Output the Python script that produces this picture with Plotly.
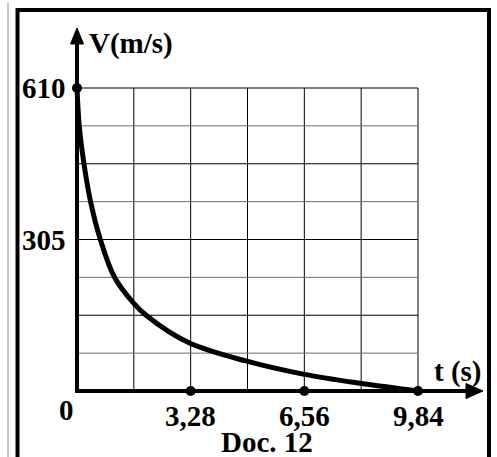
import plotly.graph_objects as go

# ---------------- data ----------------
curve_t = [0, 0.066, 0.202, 0.395, 0.678, 1.082, 1.607, 2.02, 3.232, 4.897, 6.521, 8.166, 9.84]
curve_v = [610, 533, 457, 380, 304, 229, 179, 151, 97, 60, 34, 15.5, 0]

dot_t = [0, 3.28, 6.56, 9.84]
dot_v = [610, 0, 0, 0]

x_tick_vals = [3.28, 6.56, 9.84]
x_tick_text = ["3,28", "6,56", "9,84"]
y_tick_vals = [610, 305]
y_tick_text = ["610", "305"]

grid_t_step = 1.64
grid_t_count = 6
grid_v_step = 76.25
grid_v_count = 8

x_title = "t (s)"
y_title = "V(m/s)"
caption = "Doc. 12"

# ---------------- geometry ----------------
W, H = 497, 457
X0, Y0 = 77.0, 391.0          # pixel of origin
SX = 341.0 / 9.84             # px per second
SY = 303.0 / 610.0            # px per m/s


def t_of(px):
    return (px - X0) / SX


def v_of(py):
    return (Y0 - py) / SY


def pxx(px):
    return px / W


def pxy(py):
    return 1 - py / H


FONT = "Liberation Serif"
FS = 29

fig = go.Figure()

shapes = []
# grid
t_max = grid_t_step * grid_t_count
v_max = grid_v_step * grid_v_count
for i in range(1, grid_t_count + 1):
    t = i * grid_t_step
    shapes.append(dict(type="line", x0=t, x1=t, y0=0, y1=v_max, xref="x", yref="y",
                       line=dict(color="black", width=1), layer="below"))
for i in range(1, grid_v_count + 1):
    v = i * grid_v_step
    col = "black" if i % 2 == 0 else "#6e6e6e"
    shapes.append(dict(type="line", x0=0, x1=t_max, y0=v, y1=v, xref="x", yref="y",
                       line=dict(color=col, width=1), layer="below"))

# axes
shapes.append(dict(type="line", x0=0, x1=0, y0=0, y1=v_of(42), xref="x", yref="y",
                   line=dict(color="black", width=4)))
shapes.append(dict(type="line", x0=t_of(75), x1=t_of(469), y0=0, y1=0, xref="x", yref="y",
                   line=dict(color="black", width=4)))
# arrowheads
shapes.append(dict(type="path", xref="x", yref="y",
                   path=f"M {t_of(77)} {v_of(28)} L {t_of(70.5)} {v_of(44)} L {t_of(83.5)} {v_of(44)} Z",
                   fillcolor="black", line=dict(color="black", width=1)))
shapes.append(dict(type="path", xref="x", yref="y",
                   path=f"M {t_of(483)} {v_of(391)} L {t_of(466)} {v_of(383.5)} L {t_of(466)} {v_of(398.5)} Z",
                   fillcolor="black", line=dict(color="black", width=1)))

# frame and left gray rule
shapes.append(dict(type="rect", xref="paper", yref="paper",
                   x0=pxx(17.5), x1=pxx(489), y0=pxy(480), y1=pxy(10),
                   line=dict(color="black", width=4)))
shapes.append(dict(type="line", xref="paper", yref="paper",
                   x0=pxx(8), x1=pxx(8), y0=pxy(3), y1=pxy(470),
                   line=dict(color="#8a8a8a", width=1)))

# curve
fig.add_trace(go.Scatter(x=curve_t, y=curve_v, mode="lines",
                         line=dict(color="black", width=5, shape="spline", smoothing=1.0),
                         hoverinfo="skip", showlegend=False))
# dots
fig.add_trace(go.Scatter(x=dot_t, y=dot_v, mode="markers",
                         marker=dict(color="black", size=10),
                         hoverinfo="skip", showlegend=False))

ann = []
for v, txt in zip(y_tick_vals, y_tick_text):
    ann.append(dict(x=0, y=v, xref="x", yref="y", text=f"<b>{txt}</b>", showarrow=False,
                    xanchor="right", yanchor="middle", xshift=-9, yshift=0,
                    font=dict(family=FONT, size=FS, color="black")))
ann.append(dict(x=0, y=0, xref="x", yref="y", text="<b>0</b>", showarrow=False,
                xanchor="right", yanchor="top", xshift=-1, yshift=-1,
                font=dict(family=FONT, size=FS, color="black")))
for t, txt in zip(x_tick_vals, x_tick_text):
    ann.append(dict(x=t, y=0, xref="x", yref="y", text=f"<b>{txt}</b>", showarrow=False,
                    xanchor="center", yanchor="top", yshift=-7,
                    font=dict(family=FONT, size=FS, color="black")))
ann.append(dict(x=pxx(87), y=pxy(44), xref="paper", yref="paper", text=f"<b>{y_title}</b>",
                showarrow=False, xanchor="left", yanchor="middle",
                font=dict(family=FONT, size=FS, color="black")))
ann.append(dict(x=pxx(484), y=pxy(371), xref="paper", yref="paper", text=f"<b>{x_title}</b>",
                showarrow=False, xanchor="right", yanchor="middle",
                font=dict(family=FONT, size=FS, color="black")))
ann.append(dict(x=pxx(267), y=pxy(442), xref="paper", yref="paper", text=f"<b>{caption}</b>",
                showarrow=False, xanchor="center", yanchor="middle",
                font=dict(family=FONT, size=FS, color="black")))

fig.update_layout(
    width=W, height=H, autosize=False,
    margin=dict(l=0, r=0, t=0, b=0, pad=0),
    paper_bgcolor="white", plot_bgcolor="white",
    xaxis=dict(range=[t_of(0), t_of(W)], visible=False, fixedrange=True),
    yaxis=dict(range=[v_of(H), v_of(0)], visible=False, fixedrange=True),
    shapes=shapes, annotations=ann, showlegend=False,
)

fig.write_html("out.html", config={"displayModeBar": False},
               post_script="document.body.style.margin='0';document.body.style.overflow='hidden';")
